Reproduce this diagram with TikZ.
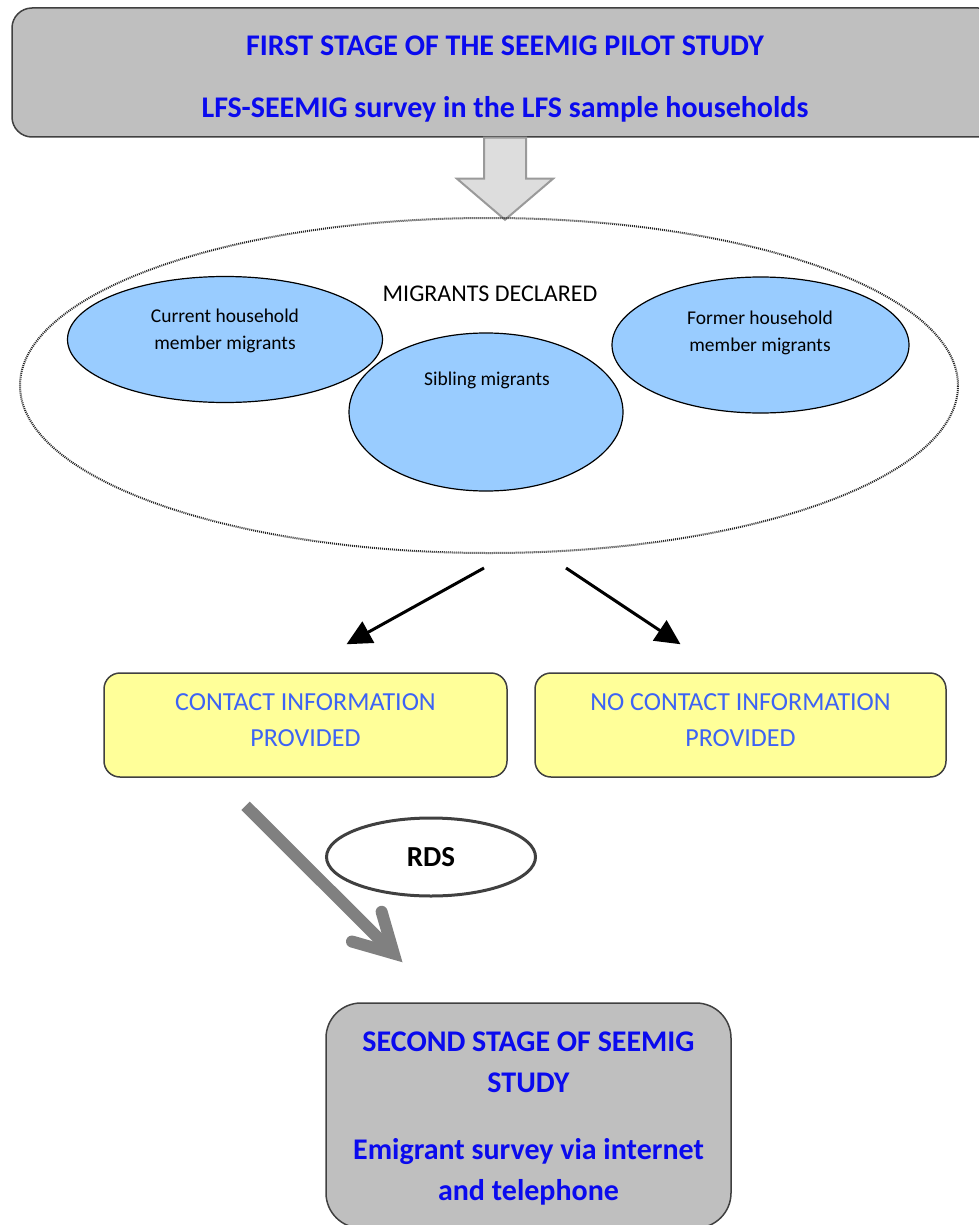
\documentclass[tikz,border=0pt]{standalone}
\usepackage{fontspec}
\setmainfont{Carlito}
\usetikzlibrary{shapes.geometric,arrows.meta,calc}

\definecolor{boxgray}{HTML}{BFBFBF}
\definecolor{edgegray}{HTML}{404040}
\definecolor{titleblue}{HTML}{0A0AEE}
\definecolor{infoblue}{HTML}{3D63F5}
\definecolor{bubbleblue}{HTML}{99CCFF}
\definecolor{infoyellow}{HTML}{FFFF99}
\definecolor{blockgray}{HTML}{DDDDDD}
\definecolor{blockedge}{HTML}{9A9A9A}
\definecolor{rdsgray}{HTML}{808080}

\begin{document}
\begin{tikzpicture}[x=1pt,y=-1pt,
  stagebox/.style={draw=edgegray, line width=1.5pt, fill=boxgray, inner sep=0pt},
  stagetext/.style={text=titleblue, inner sep=0pt, align=center, font=\fontsize{30}{41}\selectfont\bfseries},
  infobox/.style={draw=edgegray, line width=1.5pt, fill=infoyellow, rounded corners=16pt, inner sep=0pt, minimum height=104pt},
  infotext/.style={text=infoblue, inner sep=0pt, align=center, font=\fontsize{26}{36}\selectfont},
  bubble/.style={draw, line width=1.2pt, fill=bubbleblue, ellipse, inner sep=0pt},
  bubbletext/.style={align=center, inner sep=0pt, font=\fontsize{19.5}{27}\selectfont},
  flow/.style={line width=3pt, -{Triangle[length=25pt,width=24pt]}}]
\useasboundingbox (0,0) rectangle (978,1225);

% first stage
\node[stagebox, rounded corners=20pt, minimum width=986pt, minimum height=129pt] (first) at (505,72.5) {};
\node[stagetext] (firsttext) at ([shift={(0,7)}]first.center)
  {FIRST STAGE OF THE SEEMIG PILOT STUDY\\[21pt]LFS-SEEMIG survey in the LFS sample households};

% block arrow down
\draw[fill=blockgray, draw=blockedge, line width=2pt, line join=miter]
  ([xshift=-21pt]first.south) -- ++(0,41) -- ++(-27,0) -- ++(48,41) -- ++(48,-41) -- ++(-27,0) -- ++(0,-41) -- cycle;

% migrants declared
\node[draw=black!85, line width=2pt, dash pattern=on 1pt off 1pt, ellipse, inner sep=0pt,
  minimum width=938pt, minimum height=335pt] (mig) at (489,385.5) {};
\node[bubble, minimum width=315pt, minimum height=126pt] (cur) at (225,339.5) {};
\node[bubble, minimum width=297pt, minimum height=136pt] (form) at (760.5,345) {};
\node[bubble, minimum width=274pt, minimum height=158pt] (sib) at (486,412) {};
\node[inner sep=0pt, font=\fontsize{24}{28}\selectfont] (migtitle) at (490,294) {MIGRANTS DECLARED};
\node[bubbletext] (curtext) at (225,331) {Current household\\member migrants};
\node[bubbletext] (sibtext) at (487,380) {Sibling migrants};
\node[bubbletext] (formtext) at (760,333) {Former household\\member migrants};

% contact information
\node[infobox, minimum width=403pt] (ci) at (305.5,725) {};
\node[infobox, minimum width=411pt] (nci) at (740.5,725) {};
\node[infotext] (citext) at ([shift={(0,-5)}]ci.center) {CONTACT INFORMATION\\PROVIDED};
\node[infotext] (ncitext) at ([shift={(0,-5)}]nci.center) {NO CONTACT INFORMATION\\PROVIDED};
\draw[flow] ([shift={(-5,14)}]mig.south) -- ([shift={(41,-28)}]ci.north);
\draw[flow] ([shift={(77,14)}]mig.south) -- ([shift={(-60,-28)}]nci.north);

% second stage
\node[stagebox, rounded corners=35pt, minimum width=405pt, minimum height=225pt] (second) at (528.5,1115.5) {};
\node[stagetext] (secondtext) at ([shift={(0,3)}]second.center)
  {SECOND STAGE OF SEEMIG\\STUDY\\[26pt]Emigrant survey via internet\\and telephone};
\node[draw=edgegray, line width=3pt, ellipse, inner sep=0pt, minimum width=209pt, minimum height=78pt,
  font=\fontsize{29}{32}\selectfont\bfseries] (rds) at (431,857) {RDS};
\draw[draw=rdsgray, line width=12pt, line join=miter,
  -{Straight Barb[length=38pt,width=42pt,line cap=round,line join=miter]}]
  ([shift={(-60,28)}]ci.south) -- ([shift={(-126,-40)}]second.north);
\end{tikzpicture}
\end{document}
